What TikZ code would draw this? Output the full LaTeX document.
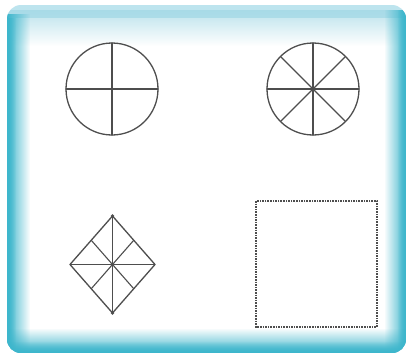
\documentclass[tikz,border=0pt]{standalone}
\usetikzlibrary{calc,fadings}
\definecolor{frameteal}{HTML}{3DB6CC}
\definecolor{framelight}{HTML}{9FD7E5}
\definecolor{framepale}{HTML}{BDE4EE}
\definecolor{ink}{HTML}{4E4E4E}
\tikzfading[name=fadetoright, left color=transparent!0, right color=transparent!100]
\tikzfading[name=fadetoleft, left color=transparent!100, right color=transparent!0]
\tikzfading[name=fadetoup, top color=transparent!100, bottom color=transparent!0]
\tikzfading[name=topband, top color=transparent!30, middle color=transparent!0, bottom color=transparent!100]
\begin{document}
\begin{tikzpicture}[x=1pt,y=-1pt,
  shapeline/.style={draw=ink, line width=1.3pt},
  spoke/.style={draw=ink, line width=1.1pt, line cap=round},
  dotbox/.style={draw=ink, line width=1.4pt, dash pattern=on 1.6pt off 1pt},
  hub/.style={fill=ink}]
\useasboundingbox (0,0) rectangle (410,359);
\fill[white] (0,0) rectangle (410,359);
% frame with soft inner glow
\begin{scope}
  \clip[rounded corners=14pt] (7,5) rectangle (406,353);
  \fill[white] (7,5) rectangle (406,353);
  % top band
  \fill[framepale] (7,5) rectangle (406,18);
  \fill[framelight, path fading=topband] (7,10) rectangle (406,46);
  % left edge
  \fill[frameteal, path fading=fadetoright] (7,14) rectangle (30,353);
  \fill[frameteal, path fading=fadetoright] (7,18) rectangle (16,353);
  % right edge
  \fill[frameteal, path fading=fadetoleft] (384,10) rectangle (406,353);
  \fill[frameteal, path fading=fadetoleft] (397,10) rectangle (406,353);
  % bottom edge
  \fill[frameteal, path fading=fadetoup] (7,328) rectangle (406,353);
  \fill[frameteal, path fading=fadetoup] (7,341) rectangle (406,353);
\end{scope}
% circle with cross
\coordinate (c1) at (112,89);
\draw[shapeline] (c1) circle[radius=46pt];
\draw[spoke] ($(c1)+(-46,0)$) -- ($(c1)+(46,0)$);
\draw[spoke] ($(c1)+(0,-46)$) -- ($(c1)+(0,46)$);
% circle with eight spokes
\coordinate (c2) at (313,89);
\draw[shapeline] (c2) circle[radius=46pt];
\foreach \a in {0,45,...,315}
  \draw[spoke] (c2) -- ++(\a:46pt);
\fill[hub] (c2) circle[radius=2pt];
% diamond
\coordinate (dc) at (112.5,264.5);
\coordinate (dt) at (112.5,216);
\coordinate (db) at (112.5,313);
\coordinate (dl) at (70,264.5);
\coordinate (dr) at (155,264.5);
\draw[shapeline, line join=round] (dt) -- (dr) -- (db) -- (dl) -- cycle;
\draw[spoke] (dt) -- (db);
\draw[spoke] (dl) -- (dr);
\draw[spoke] (dc) -- ($(dt)!0.5!(dl)$);
\draw[spoke] (dc) -- ($(dt)!0.5!(dr)$);
\draw[spoke] (dc) -- ($(db)!0.5!(dl)$);
\draw[spoke] (dc) -- ($(db)!0.5!(dr)$);
\fill[hub] (dc) circle[radius=1.8pt];
\fill[hub] (dt) circle[radius=1.8pt];
\fill[hub] (db) circle[radius=1.8pt];
% dotted square
\draw[dotbox] (256,201) rectangle (377,327);
\end{tikzpicture}
\end{document}
